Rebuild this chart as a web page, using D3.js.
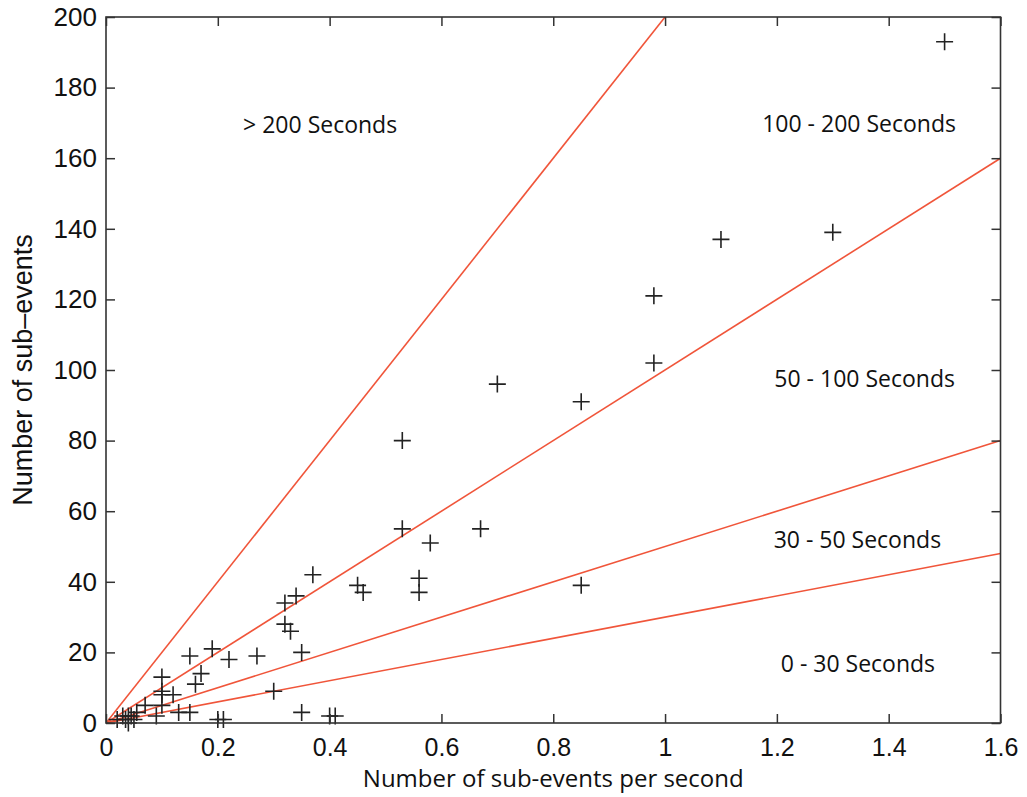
<!DOCTYPE html>
<html>
<head>
<meta charset="utf-8">
<script src="https://cdn.jsdelivr.net/npm/d3@7"></script>
<style>
  html, body { margin: 0; padding: 0; background: #fff; }
  svg { display: block; }
</style>
</head>
<body>
<svg id="chart" width="1027" height="797"></svg>
<script>
// Sub-event rate vs. count, one cross per event
const rates  = [1.5, 1.3, 1.1, 0.98, 0.98, 0.85, 0.70, 0.53, 0.53, 0.67, 0.58, 0.56, 0.56, 0.85,
                0.45, 0.46, 0.37, 0.34, 0.32, 0.32, 0.33, 0.27, 0.35, 0.30, 0.35, 0.40, 0.41,
                0.15, 0.19, 0.22, 0.17, 0.16, 0.10, 0.10, 0.10, 0.12, 0.10, 0.09, 0.13, 0.15,
                0.20, 0.21, 0.07, 0.055, 0.045, 0.04, 0.03, 0.04, 0.035, 0.05, 0.02];
const counts = [193, 139, 137, 121, 102, 91, 96, 80, 55, 55, 51, 41, 37, 39,
                39, 37, 42, 36, 34, 28, 26, 19, 20, 9, 3, 2, 2,
                19, 21, 18, 14, 11, 13, 9, 8, 8, 5, 2, 3, 3,
                1, 1, 5, 3, 2, 2, 2, 0, 1, 1, 1];

// Duration boundaries (seconds): count = rate * duration
const durations = [30, 50, 100, 200];
const zoneLabels = ["> 200 Seconds", "100 - 200 Seconds", "50 - 100 Seconds", "30 - 50 Seconds", "0 - 30 Seconds"];
const zoneRates  = [0.383, 1.347, 1.357, 1.344, 1.345];
const zoneCounts = [167, 167.5, 95.3, 49.5, 14.5];

const xTicks = [0, 0.2, 0.4, 0.6, 0.8, 1, 1.2, 1.4, 1.6];
const yTicks = [0, 20, 40, 60, 80, 100, 120, 140, 160, 180, 200];

const svg = d3.select("#chart");
const plotL = 106, plotR = 1000.5, plotT = 17, plotB = 723;

const x = d3.scaleLinear().domain([0, 1.6]).range([plotL, plotR]);
const y = d3.scaleLinear().domain([0, 200]).range([plotB, plotT]);

const axisColor = "#333";
const tickFont = "'Liberation Sans', Arial, Helvetica, sans-serif";
const textFont = "'Open Sans', 'Noto Sans', sans-serif";

svg.append("defs").append("clipPath").attr("id", "plotClip")
  .append("rect").attr("x", plotL).attr("y", plotT).attr("width", plotR - plotL).attr("height", plotB - plotT);

// Boundary lines
const plot = svg.append("g").attr("clip-path", "url(#plotClip)");
plot.selectAll("line.dur").data(durations).join("line")
  .attr("class", "dur")
  .attr("x1", x(0)).attr("y1", y(0))
  .attr("x2", x(1.6)).attr("y2", d => y(1.6 * d))
  .attr("stroke", "#f0553a").attr("stroke-width", 1.6);

// Crosses
const arm = 8.5;
const pts = svg.append("g").attr("stroke", "#222").attr("stroke-width", 1.6).attr("fill", "none");
const data = rates.map((r, i) => ({ r, c: counts[i] }));
pts.selectAll("path").data(data).join("path")
  .attr("d", d => {
    const px = x(d.r), py = y(d.c);
    return `M${px - arm},${py}H${px + arm}M${px},${py - arm}V${py + arm}`;
  });

// Axes with inward ticks on all four sides
const tickLen = 9;
const xAxisB = d3.axisBottom(x).tickValues(xTicks).tickSizeInner(-tickLen).tickSizeOuter(0)
  .tickPadding(15).tickFormat(d3.format("~g"));
const xAxisT = d3.axisTop(x).tickValues(xTicks).tickSizeInner(-tickLen).tickSizeOuter(0).tickFormat("");
const yAxisL = d3.axisLeft(y).tickValues(yTicks).tickSizeInner(-tickLen).tickSizeOuter(0).tickPadding(9);
const yAxisR = d3.axisRight(y).tickValues(yTicks).tickSizeInner(-tickLen).tickSizeOuter(0).tickFormat("");

function style(g, size) {
  g.select(".domain").remove();
  g.selectAll(".tick line").attr("stroke", axisColor).attr("stroke-width", 1.5);
  g.selectAll(".tick text").attr("fill", "#111").style("font-family", tickFont).style("font-size", size + "px");
}
svg.append("g").attr("transform", `translate(0,${plotB})`).call(xAxisB).call(style, 25);
svg.append("g").attr("transform", `translate(0,${plotT})`).call(xAxisT).call(style, 25);
svg.append("g").attr("transform", `translate(${plotL},0)`).call(yAxisL).call(style, 26);
svg.append("g").attr("transform", `translate(${plotR},0)`).call(yAxisR).call(style, 26);

// Frame
svg.append("rect").attr("x", plotL).attr("y", plotT).attr("width", plotR - plotL).attr("height", plotB - plotT)
  .attr("fill", "none").attr("stroke", axisColor).attr("stroke-width", 1.6);

// Zone labels
svg.append("g").selectAll("text").data(zoneLabels).join("text")
  .attr("x", (d, i) => x(zoneRates[i]))
  .attr("y", (d, i) => y(zoneCounts[i]))
  .attr("text-anchor", "middle")
  .style("font-family", textFont).style("font-size", "23px").attr("fill", "#111")
  .text(d => d);

// Axis titles
svg.append("text").attr("x", (plotL + plotR) / 2).attr("y", 787).attr("text-anchor", "middle")
  .style("font-family", textFont).style("font-size", "24px").attr("fill", "#111")
  .text("Number of sub-events per second");
svg.append("text").attr("transform", `translate(32,${(plotT + plotB) / 2}) rotate(-90)`)
  .attr("text-anchor", "middle")
  .style("font-family", tickFont).style("font-size", "27px").attr("fill", "#111")
  .text("Number of sub\u2013events");
</script>
</body>
</html>
